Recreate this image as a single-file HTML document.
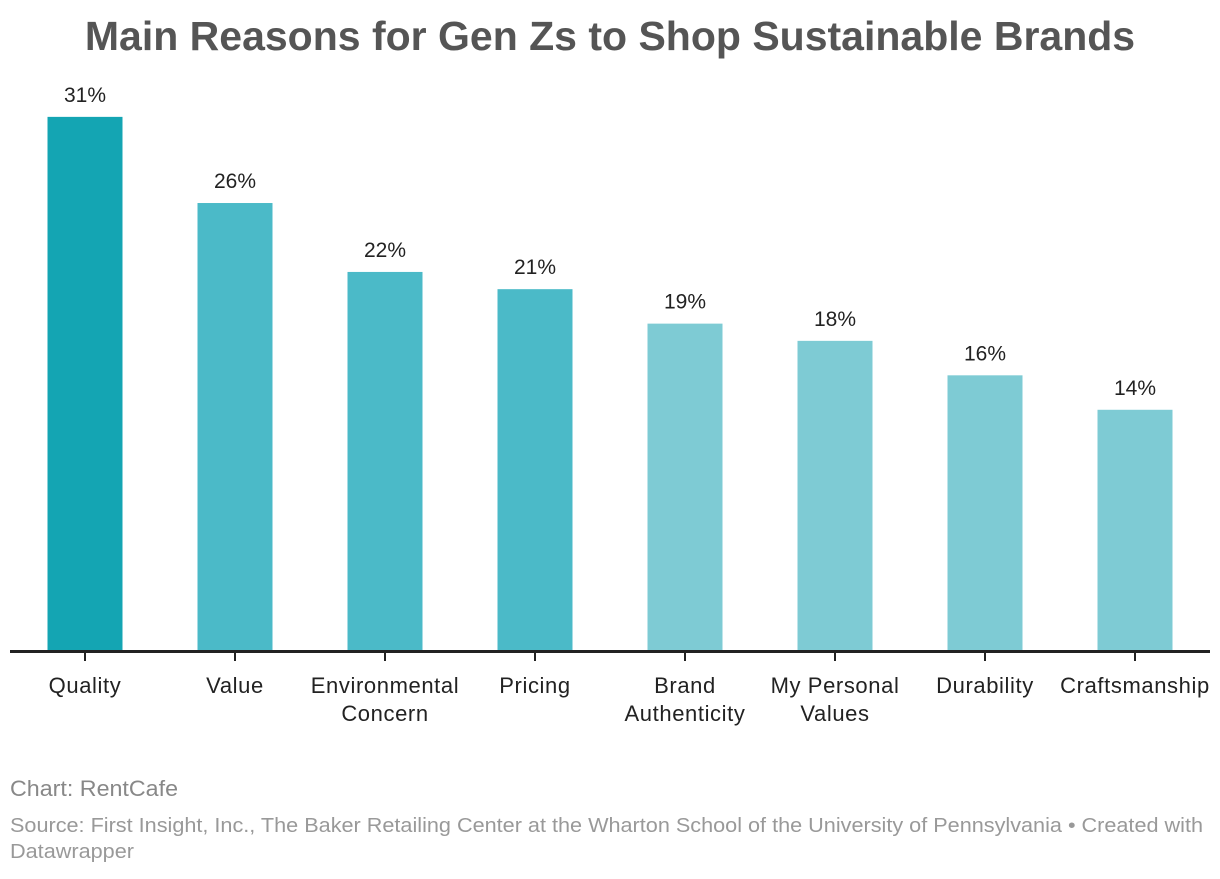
<!DOCTYPE html>
<html><head><meta charset="utf-8"><style>
body{margin:0;background:#fff;width:1220px;height:874px;overflow:hidden;font-family:"Liberation Sans",sans-serif}
</style></head><body>
<svg width="1220" height="874" style="font-family:'Liberation Sans',sans-serif">
<text x="610" y="50" text-anchor="middle" font-size="41" font-weight="bold" fill="#555">Main Reasons for Gen Zs to Shop Sustainable Brands</text>
<g id="bars"></g>
<line x1="10" y1="651.5" x2="1210" y2="651.5" stroke="#222" stroke-width="3"/>
<text x="10" y="796" font-size="22" fill="#888" textLength="168" lengthAdjust="spacingAndGlyphs">Chart: RentCafe</text>
<text x="10" y="832" font-size="20" fill="#999" textLength="1193" lengthAdjust="spacingAndGlyphs">Source: First Insight, Inc., The Baker Retailing Center at the Wharton School of the University of Pennsylvania • Created with</text>
<text x="10" y="858" font-size="20" fill="#999" textLength="124" lengthAdjust="spacingAndGlyphs">Datawrapper</text>
</svg>
<script>
const categories=[["Quality"],["Value"],["Environmental","Concern"],["Pricing"],["Brand","Authenticity"],["My Personal","Values"],["Durability"],["Craftsmanship"]];
const values=[31,26,22,21,19,18,16,14];
const valueLabels=["31%","26%","22%","21%","19%","18%","16%","14%"];
const colors=["#14a5b3","#4bbac8","#4bbac8","#4bbac8","#7ecbd4","#7ecbd4","#7ecbd4","#7ecbd4"];
const ns="http://www.w3.org/2000/svg";
const base=651, scale=17.23, step=150, x0=85, bw=75;
const xPos=i=>x0+i*step;
const yPos=v=>base-v*scale;
const g=document.getElementById('bars');
function mk(t,a){const e=document.createElementNS(ns,t);for(const k in a)e.setAttribute(k,a[k]);return e;}
values.forEach((v,i)=>{
  const cx=xPos(i);
  const r=mk('rect',{x:cx-bw/2,y:yPos(v),width:bw,height:base-yPos(v),fill:colors[i]});
  
  
  g.appendChild(r);
  const t=mk('text',{x:cx,y:yPos(v)-15,'text-anchor':'middle','font-size':'21',fill:'#222'});
  t.textContent=valueLabels[i];
  
  
  g.appendChild(t);
  const tk=mk('line',{x1:cx,y1:base,x2:cx,y2:661,stroke:'#222','stroke-width':'2'});
  
  
  g.appendChild(tk);
  categories[i].forEach((ln,j)=>{
    const c=mk('text',{x:cx,y:693+j*28,'text-anchor':'middle','font-size':'22','letter-spacing':'0.6',fill:'#222'});
    c.textContent=ln;
    
    
    g.appendChild(c);
  });
});
</script>
</body></html>
